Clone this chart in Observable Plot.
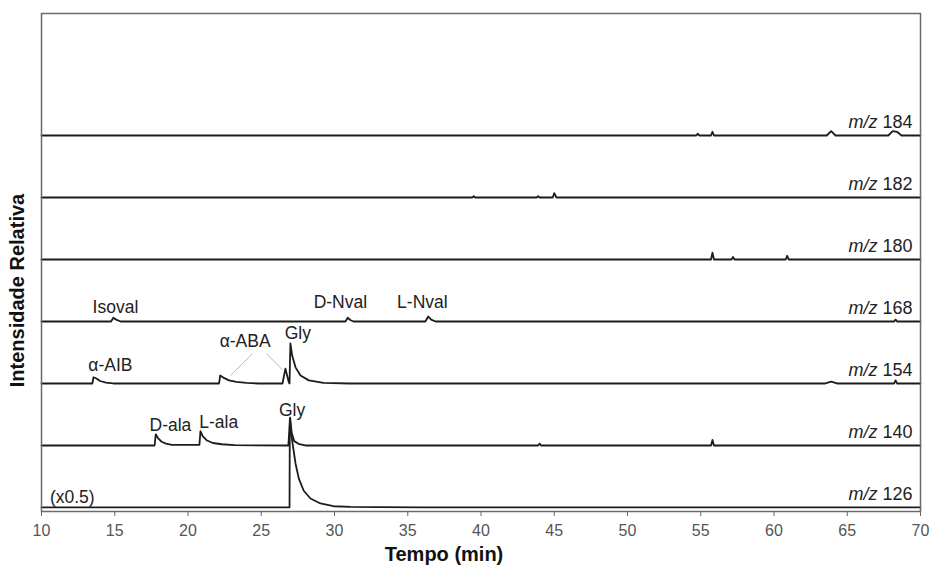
<!DOCTYPE html>
<html>
<head>
<meta charset="utf-8">
<script src="https://cdn.jsdelivr.net/npm/d3@7"></script>
<script src="https://cdn.jsdelivr.net/npm/@observablehq/plot@0.6"></script>
<style>
  body { margin: 0; background: #fff; }
  #chart svg { font-family: "Liberation Sans", Arial, sans-serif; }
</style>
</head>
<body>
<div id="chart"></div>
<script>
// ---- Data (time in min, intensity in stacked-trace units) ----
const traceNames = ["m/z 126", "m/z 140", "m/z 154", "m/z 168", "m/z 180", "m/z 182", "m/z 184"];
const traceOffsets = [0, 1, 2, 3, 4, 5, 6];

const t126 = [10, 26.93, 26.95, 27.11, 27.34, 27.56, 27.9, 28.36, 29.04, 29.93, 31.1, 33, 36, 70];
const v126 = [0, 0, 1.43, 1.08, 0.71, 0.47, 0.27, 0.145, 0.065, 0.02, 0.01, 0.005, 0, 0];

const t140 = [10, 17.72, 17.8, 17.95, 18.2, 18.5, 18.9, 20.78, 20.85, 21.0, 21.3, 21.7, 22.3, 23.2, 26.85, 26.97, 27.08, 27.25, 27.6, 28, 43.9, 44, 44.1, 55.7, 55.8, 55.9, 70];
const v140 = [0, 0, 0.18, 0.12, 0.06, 0.03, 0.01, 0.01, 0.23, 0.15, 0.08, 0.04, 0.02, 0.005, 0, 0.45, 0.2, 0.07, 0.02, 0, 0, 0.03, 0, 0, 0.09, 0, 0];

const t154 = [10, 13.47, 13.55, 13.75, 14.0, 14.4, 14.9, 22.12, 22.2, 22.45, 22.8, 23.3, 24.0, 24.8, 26.45, 26.65, 26.88, 26.93, 26.99, 27.11, 27.34, 27.68, 28.25, 29.25, 31, 63.5, 63.9, 64.3, 68.2, 68.3, 68.4, 70];
const v154 = [0, 0, 0.1, 0.08, 0.04, 0.015, 0, 0, 0.13, 0.09, 0.05, 0.025, 0.01, 0, 0, 0.24, 0.02, 0.0, 0.645, 0.45, 0.26, 0.13, 0.05, 0.01, 0, 0, 0.03, 0, 0, 0.05, 0, 0];

const t168 = [10, 14.75, 14.9, 15.1, 15.4, 30.75, 30.9, 31.1, 31.3, 36.2, 36.4, 36.6, 36.9, 68.2, 68.3, 68.4, 70];
const v168 = [0, 0, 0.06, 0.03, 0, 0, 0.06, 0.02, 0, 0, 0.08, 0.03, 0, 0, 0.03, 0, 0];

const t180 = [10, 55.7, 55.8, 55.9, 57.1, 57.2, 57.3, 60.8, 60.9, 61.0, 70];
const v180 = [0, 0, 0.11, 0, 0, 0.04, 0, 0, 0.06, 0, 0];

const t182 = [10, 39.4, 39.5, 39.6, 43.8, 43.9, 44.0, 44.9, 45.0, 45.15, 70];
const v182 = [0, 0, 0.02, 0, 0, 0.02, 0, 0, 0.07, 0, 0];

const t184 = [10, 54.7, 54.8, 54.9, 55.7, 55.8, 55.9, 63.6, 63.9, 64.2, 67.8, 68.1, 68.4, 68.7, 70];
const v184 = [0, 0, 0.03, 0, 0, 0.06, 0, 0, 0.07, 0, 0, 0.07, 0.06, 0, 0];

// Peak annotations
const peakNames = ["Isoval", "α-AIB", "α-ABA", "Gly", "D-Nval", "L-Nval", "D-ala", "L-ala", "Gly", "(x0.5)"];
const peakX     = [15.05, 14.7, 23.9, 27.5, 30.4, 36.0, 18.8, 22.1, 27.1, 12.1];
const peakY     = [3.23, 2.29, 2.68, 2.81, 3.31, 3.31, 1.32, 1.37, 1.56, 0.16];

// Leader lines from α-ABA label to its two peaks
const leaderX1 = [24.4, 25.36];
const leaderY1 = [2.48, 2.48];
const leaderX2 = [22.9, 26.45];
const leaderY2 = [2.13, 2.22];

const xTicks = [10, 15, 20, 25, 30, 35, 40, 45, 50, 55, 60, 65, 70];

// ---- Build tables ----
const series = [[t126, v126], [t140, v140], [t154, v154], [t168, v168], [t180, v180], [t182, v182], [t184, v184]];
const rows = series.flatMap(([ts, vs], k) =>
  ts.map((t, i) => ({trace: traceNames[k], t, y: traceOffsets[k] + vs[i]})));
const mzLabels = traceNames.map((n, k) => ({name: n, y: traceOffsets[k] + 0.22}));
const peaks = peakNames.map((n, i) => ({name: n, x: peakX[i], y: peakY[i]}));
const leaders = leaderX1.map((x, i) => ({x1: x, y1: leaderY1[i], x2: leaderX2[i], y2: leaderY2[i]}));

const font = "Liberation Sans, Arial, sans-serif";

const chart = Plot.plot({
  width: 931,
  height: 571,
  marginLeft: 41,
  marginRight: 11,
  marginTop: 13,
  marginBottom: 60,
  style: {fontFamily: font, background: "#fff"},
  x: {domain: [10, 70]},
  y: {domain: [-0.065, 7.968]},
  marks: [
    Plot.axisX({ticks: xTicks, tickSize: 5, tickPadding: 8, fontSize: 16, color: "#555", stroke: "#666", label: null}),
    Plot.axisY({ticks: []}),
    Plot.link(leaders, {x1: "x1", y1: "y1", x2: "x2", y2: "y2", stroke: "#9cc3da", strokeWidth: 1}),
    Plot.line(rows, {x: "t", y: "y", z: "trace", stroke: "#1c1c1c", strokeWidth: 1.8, curve: "linear"}),
    Plot.text(peaks, {x: "x", y: "y", text: "name", fontSize: 17.5, fill: "#222", textAnchor: "middle", lineAnchor: "middle"}),
    Plot.text(mzLabels, {x: 69.45, y: "y", text: "name", fontSize: 18, fill: "#222", textAnchor: "end", lineAnchor: "middle"}),
    Plot.text(["Tempo (min)"], {frameAnchor: "bottom", dx: -37, dy: 49, fontSize: 20, fontWeight: "bold", fill: "#111"}),
    Plot.text(["Intensidade Relativa"], {frameAnchor: "left", textAnchor: "middle", rotate: -90, dx: -24, dy: 28, fontSize: 20, fontWeight: "bold", fill: "#111"}),
    Plot.frame({stroke: "#6a6a6a", strokeWidth: 1.5})
  ]
});

// italicise "m/z" inside the trace labels
d3.select(chart).selectAll("text").each(function() {
  const s = this.textContent;
  if (s.startsWith("m/z ")) {
    const rest = s.slice(3);
    const sel = d3.select(this);
    sel.text(null);
    sel.append("tspan").attr("font-style", "italic").text("m/z");
    sel.append("tspan").text(rest);
  }
});

document.getElementById("chart").append(chart);
</script>
</body>
</html>
